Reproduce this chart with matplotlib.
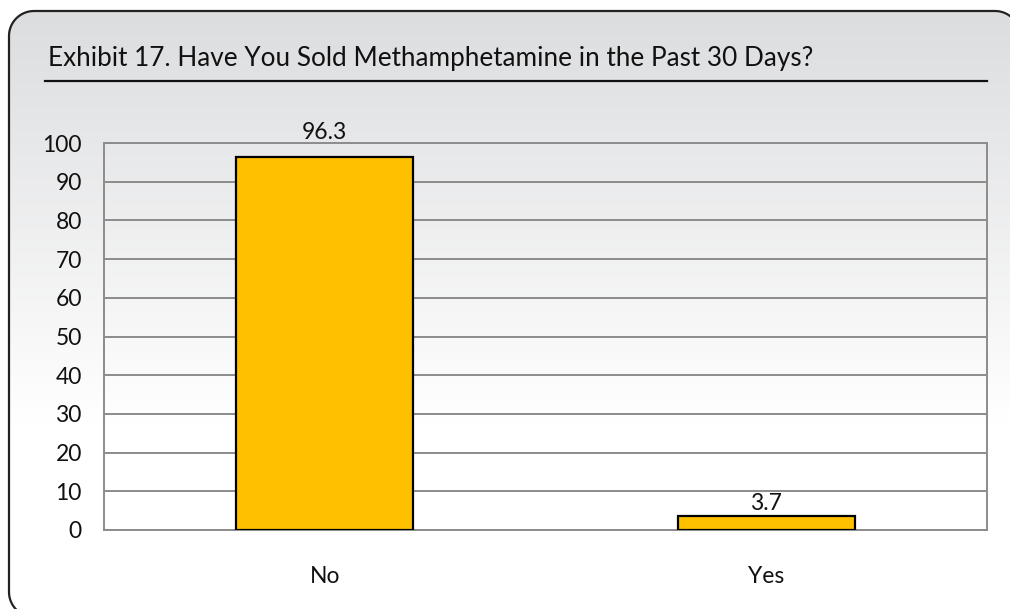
import matplotlib.pyplot as plt
import numpy as np
from matplotlib.patches import Polygon
from matplotlib.colors import LinearSegmentedColormap

categories = ["No", "Yes"]
values = [96.3, 3.7]
yticks = [0, 10, 20, 30, 40, 50, 60, 70, 80, 90, 100]
title = "Exhibit 17. Have You Sold Methamphetamine in the Past 30 Days?"

W, H = 1010, 609
plt.rcParams['font.family'] = ['Lato', 'DejaVu Sans']
fig = plt.figure(figsize=(W / 100, H / 100), dpi=100)


def rounded_rect(x0, y0, x1, y1, r, n=20):
    # outline of a rounded rectangle in pixel coords (y upward)
    pts = []
    corners = [(x1 - r, y1 - r, 0), (x0 + r, y1 - r, 90), (x0 + r, y0 + r, 180), (x1 - r, y0 + r, 270)]
    for cx, cy, a0 in corners:
        t = np.radians(np.linspace(a0, a0 + 90, n))
        pts.extend(zip(cx + r * np.cos(t), cy + r * np.sin(t)))
    return np.array(pts)


# rounded frame with gray-to-white gradient (runs off the right and bottom edges)
bg = fig.add_axes([0, 0, 1, 1], zorder=-10)
grad = np.linspace(0, 1, 256).reshape(-1, 1)
grad = np.clip(grad * 1.5, 0, 1)
img = bg.imshow(grad, cmap=LinearSegmentedColormap.from_list("g", ["#dcdddf", "#ffffff"]),
                extent=[8, 1030, -20, H - 10], aspect="auto", origin="upper")
box = Polygon(rounded_rect(9, -8, 1020, H - 11, 25), closed=True,
              facecolor="none", edgecolor="#222222", linewidth=1.6)
bg.add_patch(box)
img.set_clip_path(box)
bg.plot([45, 987], [H - 81, H - 81], color="#111111", linewidth=1.6)
bg.text(48, H - 66, title, fontsize=18.8, color="#111111", ha="left", va="baseline")
bg.set_xlim(0, W)
bg.set_ylim(0, H)
bg.axis("off")

ax = fig.add_axes([104 / W, 1 - 530 / H, (987 - 104) / W, (530 - 143) / H])
ax.patch.set_alpha(0)
x = np.arange(len(categories))
bars = ax.bar(x, values, width=0.4, color="#FFC000", edgecolor="black", linewidth=1.6, zorder=3)
label_offsets = [10, 1]
for b, v, off in zip(bars, values, label_offsets):
    ax.annotate(f"{v}", (b.get_x() + b.get_width() / 2, v), xytext=(0, off),
                textcoords="offset points", ha="center", va="bottom",
                fontsize=16.5, color="#111111")
ax.set_xlim(-0.5, 1.5)
ax.set_ylim(0, 100)
ax.set_yticks(yticks)
ax.set_xticks(x)
ax.set_xticklabels(categories)
ax.yaxis.grid(True, color="#8c8c8c", linewidth=1.4, zorder=0)
for s in ax.spines.values():
    s.set_color("#8c8c8c")
    s.set_linewidth(1.4)
ax.tick_params(axis="both", length=0, labelsize=16.5, colors="#111111")
ax.tick_params(axis="y", pad=16)
ax.tick_params(axis="x", pad=26)

fig.savefig("out.png", dpi=100)
